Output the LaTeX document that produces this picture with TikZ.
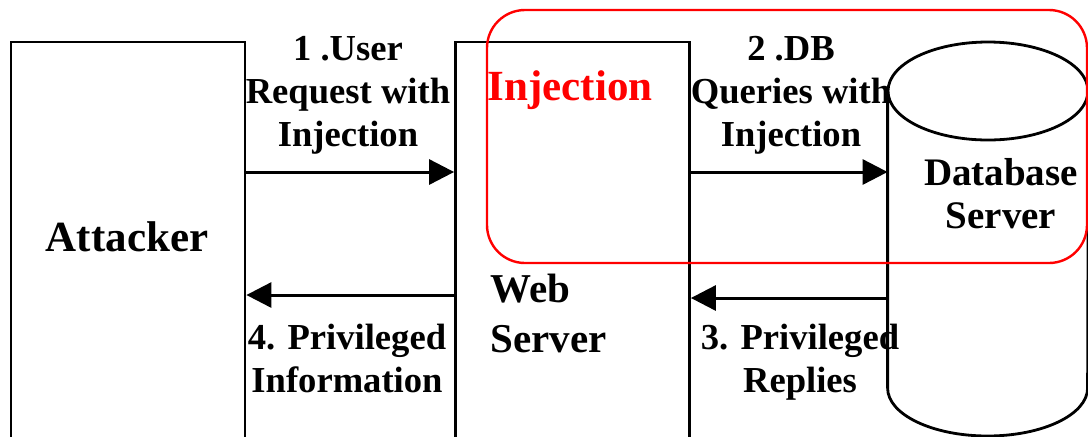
\documentclass[tikz,border=0pt]{standalone}
\usepackage{fontspec}
\setmainfont{Liberation Serif}
\usetikzlibrary{arrows.meta}

\begin{document}
\begin{tikzpicture}[x=0.5pt,y=-0.5pt,
    hostbox/.style={draw,line width=1.4pt,minimum width=117pt,minimum height=240pt,inner sep=0pt},
    flow/.style={line width=1.5pt,-{Triangle[length=12.5pt,width=12.5pt]}},
    lbl/.style={font=\bfseries\fontsize{18.3}{21.5}\selectfont,align=center,inner sep=0pt},
    big/.style={font=\bfseries\fontsize{21.5}{25}\selectfont,inner sep=0pt},
    zone/.style={draw=red,line width=1.2pt,rounded corners=19pt}]
    \useasboundingbox (0,0) rectangle (1088,436);
    \clip (0,0) rectangle (1088,436);
    % attacker and web server
    \node[hostbox] (attacker) at (128,282) {};
    \node[hostbox] (web) at (572.5,282) {};
    % database cylinder
    \node[inner sep=0pt,minimum width=100pt,minimum height=197pt] (db) at (988,239) {};
    \draw[line width=1.4pt] (db.west |- 0,91) -- (db.west |- 0,388) arc[start angle=180,end angle=360,x radius=50pt,y radius=24pt] -- (db.east |- 0,91);
    \draw[line width=1.4pt] (988,91) ellipse[x radius=50pt,y radius=24.5pt];
    % messages
    \draw[flow] (attacker.east |- 0,172) -- (web.west |- 0,172);
    \draw[flow] (web.east |- 0,172) -- (db.west |- 0,172);
    \draw[flow] (db.west |- 0,298) -- (web.east |- 0,298);
    \draw[flow] (web.west |- 0,295) -- (attacker.east |- 0,295);
    \node[lbl] (req) at (348,95) {1 .User\\Request with\\Injection};
    \node[lbl] (qry) at (791,95) {2 .DB\\Queries with\\Injection};
    \node[lbl] (reply) at (800,362) {3. Privileged\\Replies};
    \node[lbl] (info) at (347,358) {4. Privileged\\Information};
    % box labels
    \node[big,anchor=base] (atk) at (127,251) {Attacker};
    \node[big,anchor=base,text=red] (inj) at (570,100) {Injection};
    \node[font=\bfseries\fontsize{20.5}{25}\selectfont,inner sep=0pt,align=left,anchor=west] (wsrv) at (490,313) {Web\\Server};
    \node[font=\bfseries\fontsize{19.5}{21.5}\selectfont,inner sep=0pt,align=center] (dbl) at (1001,194) {Database\\Server};
    % injection zone
    \draw[zone] (487,10) rectangle (1087,263);
\end{tikzpicture}
\end{document}
